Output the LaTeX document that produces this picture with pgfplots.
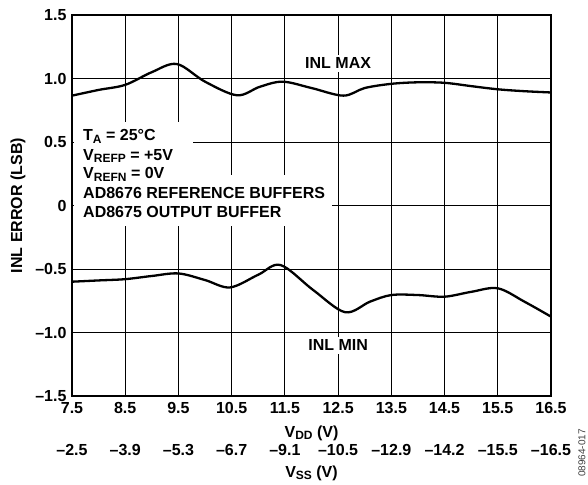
\documentclass[border=0pt]{standalone}
\usepackage{fontspec}
\setmainfont{Liberation Sans}
\usepackage{pgfplots}
\pgfplotsset{compat=1.18}
\newcommand\sub[1]{\raisebox{-0.35ex}{\fontsize{12}{12}\selectfont\bfseries #1}}

\begin{document}
\begin{tikzpicture}[font=\fontsize{16}{19}\selectfont\bfseries]
\begin{axis}[
    scale only axis,
    width=479pt, height=381pt,
    xmin=7.5, xmax=16.5, ymin=-1.5, ymax=1.5,
    xtick={7.5,8.5,9.5,10.5,11.5,12.5,13.5,14.5,15.5,16.5},
    xticklabels={7.5,8.5,9.5,10.5,11.5,12.5,13.5,14.5,15.5,16.5},
    ytick={-1.5,-1,-0.5,0,0.5,1,1.5},
    yticklabels={–1.5,–1.0,–0.5,0,0.5,1.0,1.5},
    extra x ticks={7.5,8.5,9.5,10.5,11.5,12.5,13.5,14.5,15.5,16.5},
    extra x tick labels={–2.5,–3.9,–5.3,–6.7,–9.1,–10.5,–12.9,–14.2,–15.5,–16.5},
    extra x tick style={xticklabel style={yshift=-41.5pt}},
    major tick length=0pt,
    grid=major,
    major grid style={black, line width=0.9pt},
    axis line style={black, line width=1.6pt},
    xticklabel style={yshift=-3pt},
    yticklabel style={xshift=-2pt},
    clip=false,
]
\addplot[black, line width=2.3pt, smooth, tension=0.55] coordinates {
  (7.5,0.865) (8.0,0.91) (8.5,0.95) (9.0,1.05) (9.47,1.114) (10.0,0.975)
  (10.6,0.868) (11.03,0.935) (11.46,0.975) (12.0,0.925) (12.6,0.865)
  (13.0,0.925) (13.5,0.958) (14.0,0.97) (14.5,0.966) (15.0,0.94)
  (15.5,0.915) (16.0,0.90) (16.5,0.89)
};
\addplot[black, line width=2.3pt, smooth, tension=0.55] coordinates {
  (7.5,-0.60) (8.0,-0.59) (8.5,-0.58) (9.0,-0.555) (9.5,-0.535)
  (10.0,-0.587) (10.47,-0.645) (11.0,-0.545) (11.42,-0.469) (12.03,-0.665)
  (12.63,-0.84) (13.1,-0.757) (13.5,-0.705) (14.0,-0.705) (14.5,-0.718)
  (15.0,-0.68) (15.5,-0.652) (16.0,-0.757) (16.5,-0.875)
};
% white backgrounds behind the condition text
\fill[white] (axis cs:7.53,0.657) rectangle (axis cs:9.77,0.161);
\fill[white] (axis cs:7.53,0.240) rectangle (axis cs:12.38,-0.161);
\node[anchor=base west, inner sep=0pt] at (axis cs:7.707,0.508) {T\sub{A} = 25°C};
\node[anchor=base west, inner sep=0pt] at (axis cs:7.707,0.358) {V\sub{REFP} = +5V};
\node[anchor=base west, inner sep=0pt] at (axis cs:7.707,0.209) {V\sub{REFN} = 0V};
\node[anchor=base west, inner sep=0pt] at (axis cs:7.707,0.059) {AD8676 REFERENCE BUFFERS};
\node[anchor=base west, inner sep=0pt] at (axis cs:7.707,-0.091) {AD8675 OUTPUT BUFFER};
\node[fill=white, inner sep=3pt] at (axis cs:12.5,1.12) {INL MAX};
\node[fill=white, inner sep=3pt] at (axis cs:12.5,-1.10) {INL MIN};
\node[anchor=base] at ([yshift=-41pt]rel axis cs:0.5,0) {V\sub{DD} (V)};
\node[anchor=base] at ([yshift=-81pt]rel axis cs:0.5,0) {V\sub{SS} (V)};
\node[rotate=90] at ([xshift=-54pt]rel axis cs:0,0.5) {INL ERROR (LSB)};
\node[rotate=90, font=\fontsize{10}{11}\selectfont, text=black!75] at ([xshift=31pt, yshift=-57pt]rel axis cs:1,0) {08964-017};
\end{axis}
\pgfresetboundingbox
\path[use as bounding box] ([shift={(-72pt,-88pt)}]current axis.south west) rectangle ++(588pt,484pt);
\end{tikzpicture}
\end{document}
